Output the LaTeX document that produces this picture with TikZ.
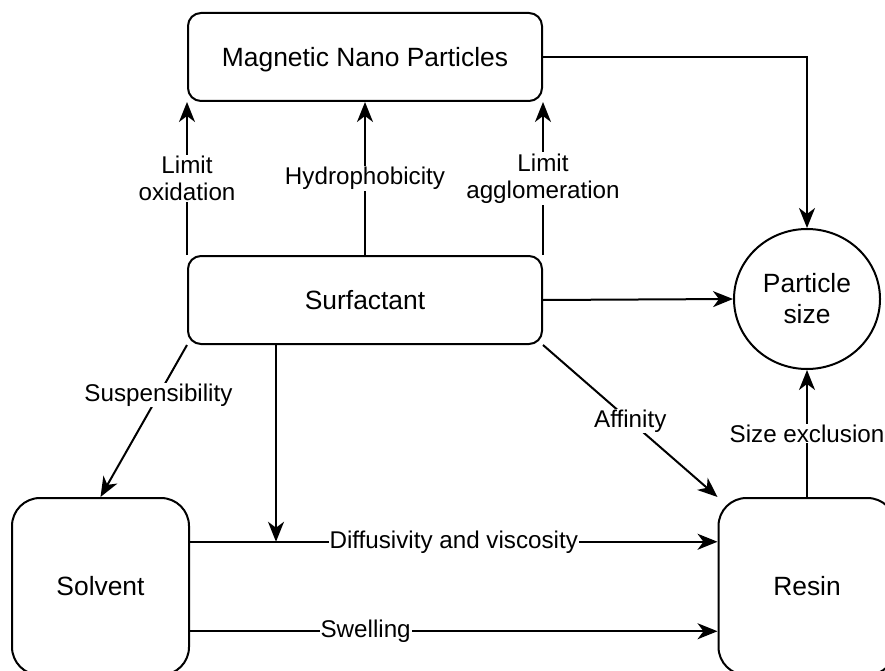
\documentclass[tikz,border=0pt]{standalone}
\usepackage{fontspec}
\setmainfont{Liberation Sans}
\usetikzlibrary{arrows.meta,shapes.geometric,calc}

\begin{document}
\begin{tikzpicture}[
  x=1pt,
  y=-1pt,
  line width=2pt,
  >={Stealth[length=20pt,width=16pt,inset=6pt]},
  font=\fontsize{26.4}{31}\selectfont,
  box/.style={draw, rounded corners=13pt, minimum width=354pt, minimum height=88pt, text height=19pt, text depth=0pt},
  bigbox/.style={draw, rounded corners=28pt, minimum width=177pt, minimum height=177pt},
  lbl/.style={fill=white, inner sep=1pt, align=center, font=\fontsize{24.2}{27.5}\selectfont}
]
\clip (0,0) rectangle (885,671);

\node[box] (mnp) at (365,57) {Magnetic Nano Particles};
\node[box] (surf) at (365,300) {Surfactant};
\node[draw, ellipse, minimum width=146pt, minimum height=140pt, align=center] (ps) at (807,299) {Particle\\size};
\node[bigbox] (solv) at (100.5,586.5) {Solvent};
\node[bigbox] (resin) at (807,586.5) {Resin};

% surfactant up to the particles
\draw[->] (surf.north west) -- node[lbl] {Limit\\oxidation} (mnp.south west);
\draw[->] (surf.north) -- node[lbl] {Hydrophobicity} (mnp.south);
\draw[->] (surf.north east) -- node[lbl] {Limit\\agglomeration} (mnp.south east);

% into particle size
\draw[->] (mnp.east) -| (ps.north);
\draw[->] (surf.east) -- (ps.west);
\draw[->] (resin.north) -- node[lbl] {Size exclusion} (ps.south);

% down to solvent and resin
\draw[->] (surf.south west) -- node[lbl, pos=0.33] {Suspensibility} (solv.north);
\draw[->] (surf.south east) -- node[lbl] {Affinity} (resin.north west);

% solvent to resin
\coordinate (d1) at ($(solv.north east)!0.25!(solv.south east)$);
\coordinate (d2) at ($(resin.north west)!0.25!(resin.south west)$);
\draw[->] (d1) -- node[lbl] {Diffusivity and viscosity} (d2);
\coordinate (s1) at ($(solv.north east)!0.75!(solv.south east)$);
\coordinate (s2) at ($(resin.north west)!0.75!(resin.south west)$);
\draw[->] (s1) -- node[lbl, pos=0.333] {Swelling} (s2);

\coordinate (drop) at ($(surf.south west)!0.25!(surf.south east)$);
\draw[->] (drop) -- (drop |- d1);
\end{tikzpicture}
\end{document}
